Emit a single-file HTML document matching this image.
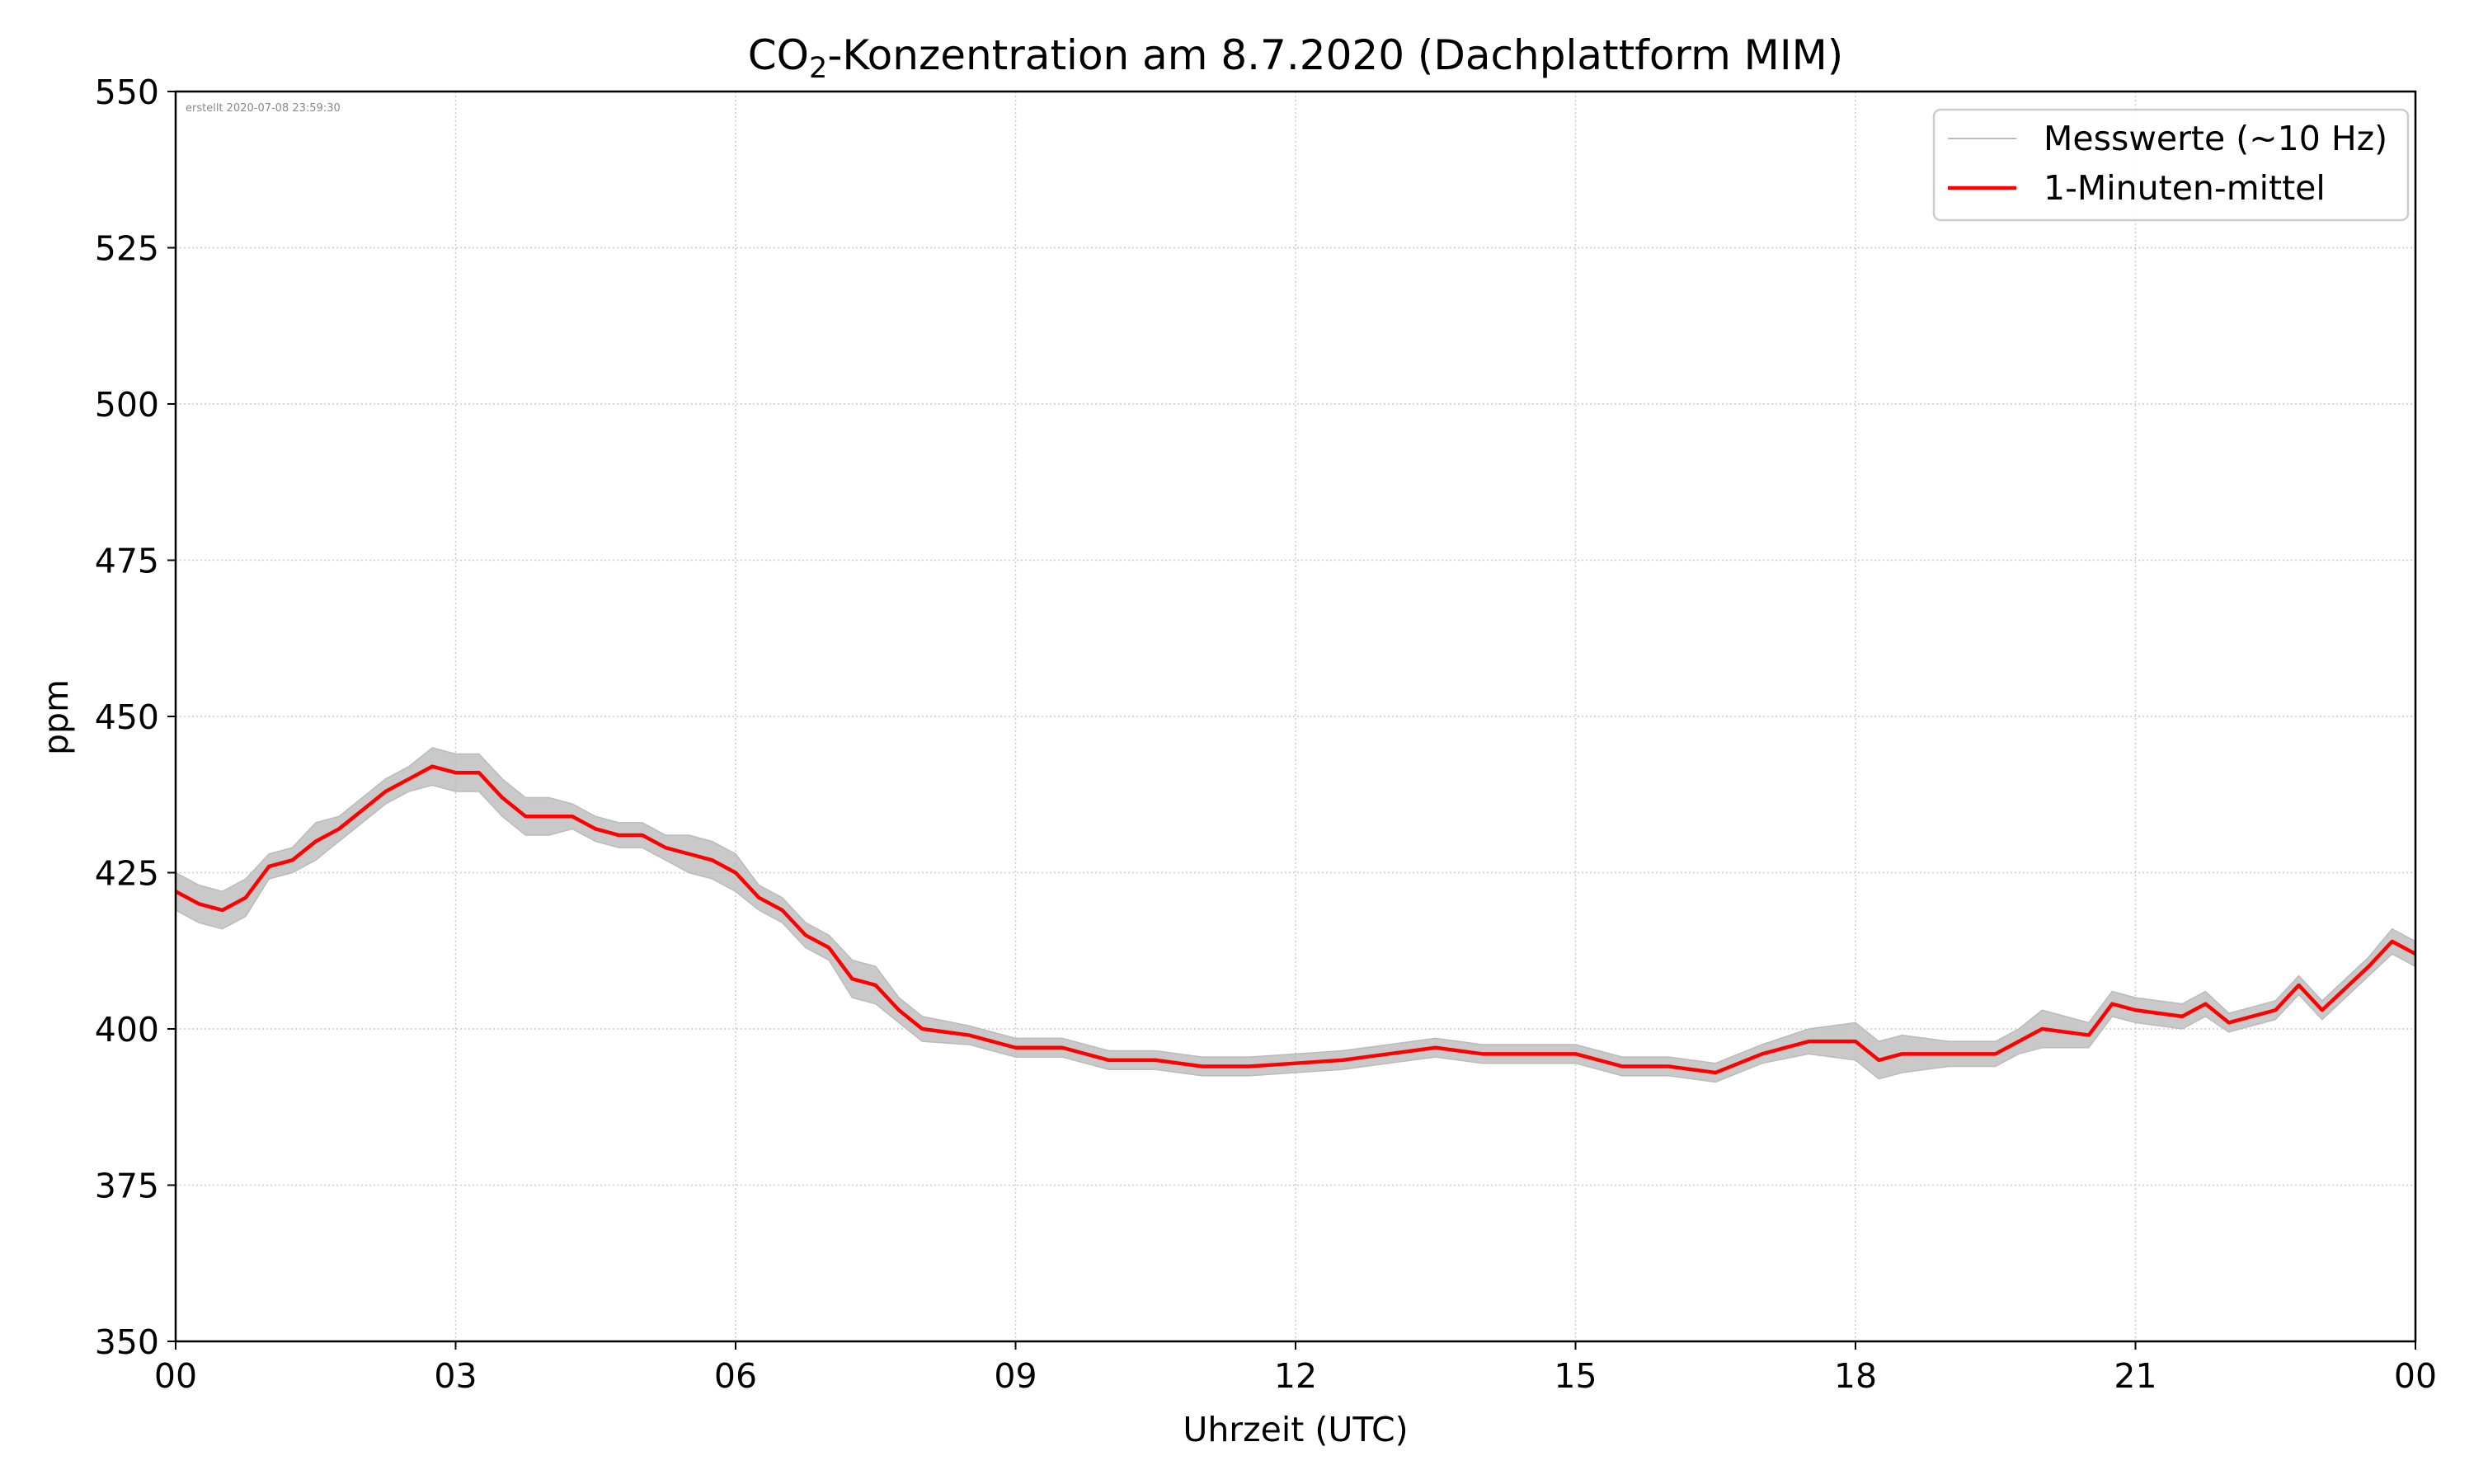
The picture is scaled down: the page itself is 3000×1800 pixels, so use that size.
<!DOCTYPE html>
<html><head><meta charset="utf-8">
<style>
html,body{margin:0;padding:0;background:#fff}
svg{display:block;font-family:"DejaVu Sans","Liberation Sans",sans-serif}
</style></head>
<body>
<svg id="chart" width="3000" height="1800" viewBox="0 0 3000 1800" xmlns="http://www.w3.org/2000/svg">
<rect width="3000" height="1800" fill="#fff"/>
<text x="1571" y="84" font-size="50" text-anchor="middle">CO<tspan font-size="35" dy="10">2</tspan><tspan dy="-10">-Konzentration am 8.7.2020 (Dachplattform MIM)</tspan></text>
<text x="225" y="135" font-size="13" fill="#888">erstellt 2020-07-08 23:59:30</text>
<g id="grid"></g>
<g id="series"></g>
<rect x="213" y="111" width="2716" height="1516" fill="none" stroke="#000" stroke-width="2.5"/>
<g id="axes"></g>
<text x="1571" y="1748" font-size="41" text-anchor="middle">Uhrzeit (UTC)</text>
<text x="82" y="870" font-size="41" text-anchor="middle" transform="rotate(-90 82 870)">ppm</text>
<g>
<rect x="2345" y="133" width="575" height="134" rx="8" fill="#fff" fill-opacity="0.85" stroke="#ccc" stroke-width="2.5"/>
<line x1="2362" y1="168" x2="2445" y2="168" stroke="#bbb" stroke-width="2"/>
<text x="2478" y="182" font-size="41">Messwerte (~10 Hz)</text>
<line x1="2362" y1="228" x2="2445" y2="228" stroke="#f00" stroke-width="4.5"/>
<text x="2478" y="242" font-size="41">1-Minuten-mittel</text>
</g>
</svg>
<script>
const hours = [0,0.25,0.5,0.75,1,1.25,1.5,1.75,2,2.25,2.5,2.75,3,3.25,3.5,3.75,4,4.25,4.5,4.75,5,5.25,5.5,5.75,6,6.25,6.5,6.75,7,7.25,7.5,7.75,8,8.5,9,9.5,10,10.5,11,11.5,12,12.5,13,13.5,14,14.5,15,15.5,16,16.5,17,17.5,18,18.25,18.5,19,19.5,19.75,20,20.5,20.75,21,21.5,21.75,22,22.5,22.75,23,23.5,23.75,24];
const meanPpm = [422,420,419,421,426,427,430,432,435,438,440,442,441,441,437,434,434,434,432,431,431,429,428,427,425,421,419,415,413,408,407,403,400,399,397,397,395,395,394,394,394.5,395,396,397,396,396,396,394,394,393,396,398,398,395,396,396,396,398,400,399,404,403,402,404,401,403,407,403,410,414,412];
const rawSpread = [3,3,3,3,2,2,3,2,2,2,2,3,3,3,3,3,3,2,2,2,2,2,3,3,3,2,2,2,2,3,3,2,2,1.5,1.5,1.5,1.5,1.5,1.5,1.5,1.5,1.5,1.5,1.5,1.5,1.5,1.5,1.5,1.5,1.5,1.5,2,3,3,3,2,2,2,3,2,2,2,2,2,1.5,1.5,1.5,1.5,1.5,2,2];
const yTicks = [350,375,400,425,450,475,500,525,550];
const xTicks = [0,3,6,9,12,15,18,21,24];
const xTickLabels = ["00","03","06","09","12","15","18","21","00"];

const L=213,R=2929,T=111,B=1627;
const xs=h=>L+(R-L)*h/24;
const ys=v=>B-(B-T)*(v-350)/200;
const NS="http://www.w3.org/2000/svg";
function mk(tag,attrs,parent){const e=document.createElementNS(NS,tag);for(const k in attrs)e.setAttribute(k,attrs[k]);parent.appendChild(e);return e;}
const grid=document.getElementById('grid'),axes=document.getElementById('axes'),ser=document.getElementById('series');
yTicks.forEach(v=>{
  const g=mk('line',{x1:L,x2:R,y1:ys(v),y2:ys(v),stroke:'#ccc','stroke-width':1.5,'stroke-dasharray':'2,3'},grid);
  
  
  const t=mk('line',{x1:L-10,x2:L,y1:ys(v),y2:ys(v),stroke:'#000','stroke-width':2},axes);
  
  
  const tx=mk('text',{x:L-20,y:ys(v)+15,'font-size':41,'text-anchor':'end'},axes);
  tx.textContent=v;
  
  
});
xTicks.forEach((h,i)=>{
  const g=mk('line',{x1:xs(h),x2:xs(h),y1:T,y2:B,stroke:'#ccc','stroke-width':1.5,'stroke-dasharray':'2,3'},grid);
  
  
  const t=mk('line',{x1:xs(h),x2:xs(h),y1:B,y2:B+10,stroke:'#000','stroke-width':2},axes);
  
  
  const tx=mk('text',{x:xs(h),y:B+56,'font-size':41,'text-anchor':'middle'},axes);
  tx.textContent=xTickLabels[i];
  
  
});
let up=[],dn=[];
hours.forEach((h,i)=>{up.push(xs(h)+','+ys(meanPpm[i]+rawSpread[i]));dn.unshift(xs(h)+','+ys(meanPpm[i]-rawSpread[i]));});
const band=mk('polygon',{points:up.concat(dn).join(' '),fill:'#bbb','fill-opacity':0.8,stroke:'#bbb','stroke-width':1.5},ser);


const line=mk('polyline',{points:hours.map((h,i)=>xs(h)+','+ys(meanPpm[i])).join(' '),fill:'none',stroke:'#f00','stroke-width':4.5,'stroke-linejoin':'round'},ser);


</script>
</body></html>
